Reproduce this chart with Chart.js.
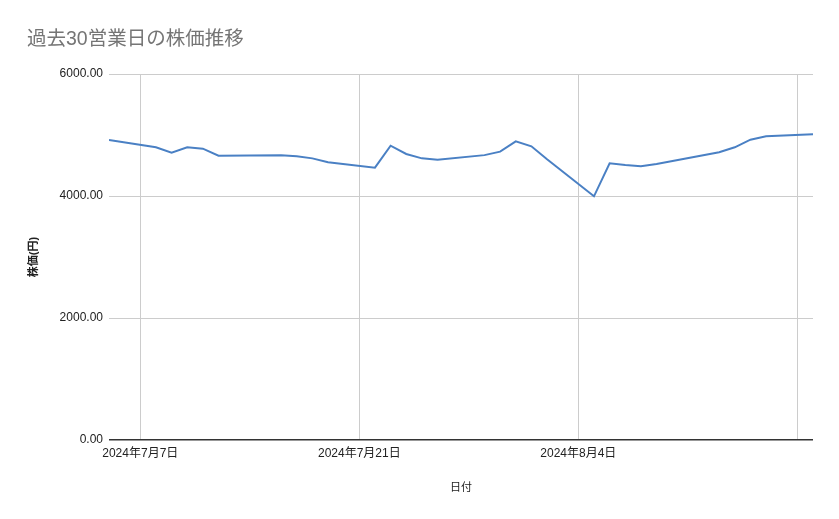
<!DOCTYPE html>
<html>
<head>
<meta charset="utf-8">
<script src="https://cdn.jsdelivr.net/npm/chart.js@4/dist/chart.umd.min.js"></script>
<style>
  html, body { margin: 0; padding: 0; background: #fff; }
  #wrap { width: 839px; height: 519px; }
</style>
</head>
<body>
<div id="wrap"><canvas id="stock"></canvas></div>
<script>
// 営業日 (7/15 海の日, 8/12 振替休日 は除く)
var dates = ['2024-07-05', '2024-07-08', '2024-07-09', '2024-07-10', '2024-07-11', '2024-07-12',
  '2024-07-16', '2024-07-17', '2024-07-18', '2024-07-19', '2024-07-22', '2024-07-23',
  '2024-07-24', '2024-07-25', '2024-07-26', '2024-07-29', '2024-07-30', '2024-07-31',
  '2024-08-01', '2024-08-02', '2024-08-05', '2024-08-06', '2024-08-07', '2024-08-08',
  '2024-08-09', '2024-08-13', '2024-08-14', '2024-08-15', '2024-08-16', '2024-08-19'];
var prices = [4918, 4798, 4710, 4798, 4776, 4661,
  4667, 4650, 4617, 4552, 4465, 4825,
  4689, 4617, 4596, 4670, 4727, 4896,
  4814, 4601, 3995, 4536, 4508, 4486,
  4525, 4716, 4798, 4923, 4978, 5011];
var xTickDates = ['2024-07-07', '2024-07-21', '2024-08-04', '2024-08-18'];
var xTickLabels = ['2024年7月7日', '2024年7月21日', '2024年8月4日', ''];
var yTicks = [0, 2000, 4000, 6000];

var base = Date.UTC(2024, 6, 7);
function dayNum(s) {
  var p = s.split('-');
  return (Date.UTC(+p[0], +p[1] - 1, +p[2]) - base) / 86400000;
}

var points = dates.map(function (d, i) { return { x: dayNum(d), y: prices[i] }; });
var xTickVals = xTickDates.map(dayNum);

var font = "'Liberation Sans', Arial, 'Noto Sans CJK JP', sans-serif";

new Chart(document.getElementById('stock'), {
  type: 'line',
  data: {
    datasets: [{
      label: '株価',
      data: points,
      borderColor: '#4a80c4',
      borderWidth: 2,
      pointRadius: 0,
      tension: 0,
      fill: false
    }]
  },
  options: {
    responsive: true,
    maintainAspectRatio: false,
    animation: false,
    layout: { padding: { left: 27, right: 26, top: 0, bottom: 0 } },
    plugins: {
      legend: { display: false },
      tooltip: { enabled: false },
      title: {
        display: true,
        text: '過去30営業日の株価推移',
        align: 'start',
        color: '#757575',
        font: { family: font, size: 19.5, weight: 'normal' },
        padding: { top: 28, bottom: 22.6 }
      }
    },
    scales: {
      x: {
        type: 'linear',
        min: dayNum(dates[0]),
        max: dayNum(dates[dates.length - 1]),
        afterBuildTicks: function (scale) {
          scale.ticks = xTickVals.map(function (v) { return { value: v }; });
        },
        afterFit: function (scale) { scale.height = 79; },
        border: { display: false },
        grid: { color: '#cccccc', drawTicks: false },
        ticks: {
          autoSkip: false,
          maxRotation: 0,
          padding: 6,
          color: '#222',
          font: { family: font, size: 12 },
          callback: function (v) {
            var i = xTickVals.indexOf(v);
            return i >= 0 ? xTickLabels[i] : '';
          }
        },
        title: {
          display: true,
          text: '日付',
          color: '#222',
          font: { family: font, size: 11 },
          padding: { top: 0, bottom: 24 }
        }
      },
      y: {
        min: 0,
        max: 6000,
        afterBuildTicks: function (scale) {
          scale.ticks = yTicks.map(function (v) { return { value: v }; });
        },
        afterFit: function (scale) { scale.width = 82; },
        border: { display: false },
        grid: {
          drawTicks: false,
          color: function (ctx) { return ctx.tick && ctx.tick.value === 0 ? '#333333' : '#cccccc'; },
          lineWidth: function (ctx) { return ctx.tick && ctx.tick.value === 0 ? 1.5 : 1; }
        },
        ticks: {
          padding: 6,
          color: '#222',
          font: { family: font, size: 12 },
          callback: function (v) { return Number(v).toFixed(2); }
        },
        title: {
          display: true,
          text: '株価(円)',
          color: '#222',
          font: { family: font, size: 11, weight: 'bold' },
          padding: { top: 0, bottom: 0 }
        }
      }
    }
  }
});
</script>
</body>
</html>
